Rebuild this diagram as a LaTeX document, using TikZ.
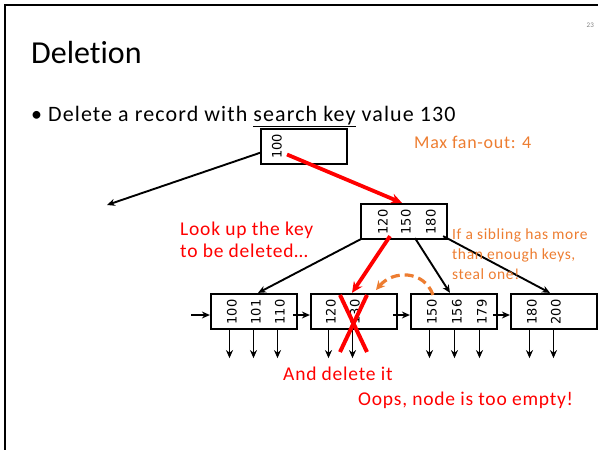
\documentclass[tikz,border=0pt]{standalone}
\usepackage{fontspec}
\setmainfont{Carlito}[Ligatures=CommonOff]
\newfontfamily\bodyfont[LetterSpace=4,Ligatures=CommonOff]{Carlito}
\newfontfamily\bulletfont[LetterSpace=5,Ligatures=CommonOff]{Carlito}
\newfontfamily\keyfont{DejaVu Sans}
\usetikzlibrary{arrows.meta}
\definecolor{accent}{HTML}{ED7D31}
\definecolor{alert}{HTML}{FF0000}
\begin{document}
\begin{tikzpicture}[x=1pt,y=-1pt,
  treenode/.style={draw,line width=2.2pt,minimum width=86pt,minimum height=35pt,inner sep=0pt},
  keytext/.style={rotate=90,inner sep=0pt,font=\keyfont\fontsize{13}{14}\selectfont},
  ptr/.style={line width=1.9pt,-{Stealth[length=8pt,width=7pt]}},
  hot/.style={alert,line width=3.8pt,-{Stealth[length=11pt,width=10pt]}},
  redtext/.style={alert,anchor=base west,inner sep=0pt,font=\bodyfont\fontsize{19.5}{22}\selectfont},
  orangetext/.style={accent,anchor=base west,inner sep=0pt,align=left},
]
\useasboundingbox (0,0) rectangle (598,450);
% slide frame
\draw[line width=2.6pt] (5,450) -- (5,5) -- (598,5);
\node[anchor=base east,inner sep=0pt,gray,font=\fontsize{7}{8}\selectfont] (pg) at (594,27) {23};

% title and bullet
\node[anchor=base west,inner sep=0pt,font=\fontsize{32}{36}\selectfont] (title) at (31,63) {Deletion};
\node[anchor=base west,inner sep=0pt,font=\bulletfont\fontsize{22}{24}\selectfont] (bullet) at (31,121)
  {\makebox[17pt][l]{\textbullet}Delete a record with \underline{search key} value 130};
\node[orangetext,font=\bodyfont\fontsize{18}{20}\selectfont] (fan) at (414,148) {Max fan-out: 4};

% root
\node[treenode] (root) at (304,146.5) {};
\node[keytext] (r1) at (277,146.5) {100};

% internal node
\node[treenode] (in) at (404,221.5) {};
\node[keytext] (i1) at (383,222) {120};
\node[keytext] (i2) at (406,222) {150};
\node[keytext] (i3) at (431,222) {180};

% leaves
\node[treenode] (l1) at (254,311.5) {};
\node[treenode] (l2) at (354,311.5) {};
\node[treenode] (l3) at (454,311.5) {};
\node[treenode] (l4) at (554,311.5) {};
\node[keytext] (a1) at (232,312) {100};
\node[keytext] (a2) at (256,312) {101};
\node[keytext] (a3) at (280,312) {110};
\node[keytext] (b1) at (331,312) {120};
\node[keytext] (b2) at (355,312) {130};
\node[keytext] (c1) at (432,312) {150};
\node[keytext] (c2) at (457,312) {156};
\node[keytext] (c3) at (482,312) {179};
\node[keytext] (d1) at (532,312) {180};
\node[keytext] (d2) at (556,312) {200};

% record pointers below the leaves
\foreach \k/\l in {a1/l1,a2/l1,a3/l1,b1/l2,b2/l2,c1/l3,c2/l3,c3/l3,d1/l4,d2/l4}
  \draw[ptr] ([xshift=-2.5pt]\l.south -| \k) -- ++(0,28);

% sibling pointers
\coordinate (lead) at (191,315);
\draw[ptr] (lead) -- (lead -| l1.west);
\draw[ptr] ([xshift=-5pt]l1.east |- lead) -- (l2.west |- lead);
\draw[ptr] ([xshift=-5pt]l2.east |- lead) -- (l3.west |- lead);
\draw[ptr] ([xshift=-5pt]l3.east |- lead) -- (l4.west |- lead);

% child pointers
\coordinate (leftchild) at (107,205);
\draw[ptr] ([xshift=1pt,yshift=-6pt]root.west) -- (leftchild);
\draw[ptr] ([xshift=1pt,yshift=1pt]in.south west) -- ([xshift=4pt]l1.north);
\draw[ptr] ([xshift=11pt,yshift=2pt]in.south) -- ([xshift=-4pt]l3.north);
\draw[ptr] ([xshift=-5pt,yshift=4pt]in.south east) -- ([xshift=-4pt]l4.north);

% search path
\draw[hot] ([xshift=-17pt,yshift=-8pt]root.center) -- ([xshift=-2pt]in.north);
\draw[hot] ([xshift=-14pt,yshift=4pt]in.south) -- ([xshift=-2pt]l2.north);

% deleted key
\draw[alert,line width=4pt] (340,295) -- (367,352);
\draw[alert,line width=4pt] (367,295) -- (340,352);

% borrowing from the right sibling
\draw[accent,line width=3.2pt,dash pattern=on 9pt off 5pt,-{Stealth[length=9pt,width=9pt]}]
  ([xshift=-21pt,yshift=-2pt]l3.north) .. controls (424,270) and (393,270) .. (376,290);

% annotations
\node[redtext] (look) at (180,235) {Look up the key};
\node[redtext] (look2) at (180,257) {to be deleted\ldots};
\node[redtext] (del) at (283,380) {And delete it};
\node[redtext] (oops) at (358,405) {Oops, node is too empty!};
\node[orangetext,font=\bodyfont\fontsize{15.5}{20}\selectfont] (steal1) at (452,239) {If a sibling has more};
\node[orangetext,font=\bodyfont\fontsize{15.5}{20}\selectfont] (steal2) at (452,259) {than enough keys,};
\node[orangetext,font=\bodyfont\fontsize{15.5}{20}\selectfont] (steal3) at (452,279) {steal one!};
\end{tikzpicture}
\end{document}
